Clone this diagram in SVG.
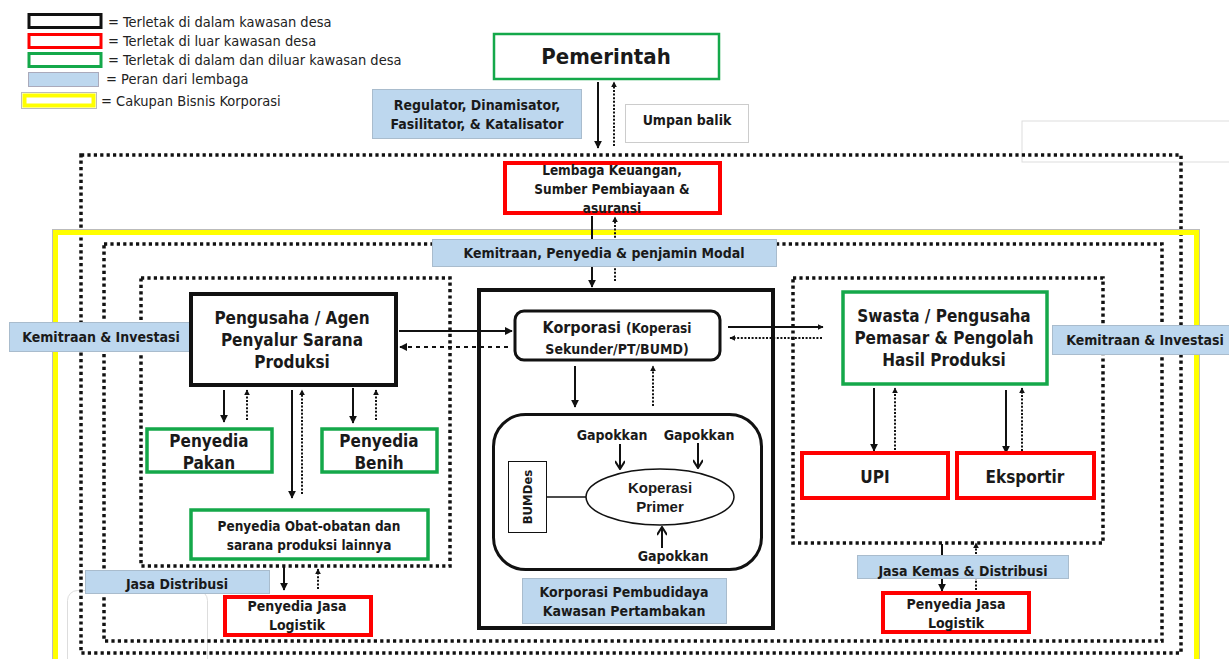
<svg xmlns="http://www.w3.org/2000/svg" width="1229" height="659" viewBox="0 0 1229 659">
<style>
text{font-family:"Liberation Sans Narrow","DejaVu Sans Condensed","Liberation Sans",sans-serif;font-weight:bold;fill:#1a1a1a;text-anchor:middle}
.lg{font-weight:normal;text-anchor:start;font-size:14.5px;fill:#222}
.t16{font-size:17px}
.t14{font-size:14px}
.t13{font-size:13.5px}
.sans{font-family:"Liberation Sans","Open Sans",sans-serif;font-size:15px}
.blk{fill:#fff;stroke:#111;stroke-width:4}
.red{fill:#fff;stroke:#f00;stroke-width:4}
.grn{fill:#fff;stroke:#14a84a;stroke-width:3.5}
.blue{fill:#bdd7ee;stroke:#a9bccd;stroke-width:1}
.dot{fill:none;stroke:#111;stroke-width:3.5;stroke-dasharray:3.2 3.2}
.faint{fill:none;stroke:#ddd;stroke-width:1}
.s{stroke:#111;stroke-width:2;fill:none}
.d{stroke:#111;stroke-width:2;fill:none;stroke-dasharray:2 1.6}
</style>
<defs>
<marker id="ah" viewBox="0 0 10 10" refX="9" refY="5" markerWidth="6" markerHeight="6" markerUnits="userSpaceOnUse" orient="auto"><path d="M0,0 L10,5 L0,10 z" fill="#111"/></marker>
<marker id="ah2" viewBox="0 0 10 10" refX="9" refY="5" markerWidth="8" markerHeight="8" markerUnits="userSpaceOnUse" orient="auto"><path d="M0,0 L10,5 L0,10 z" fill="#111"/></marker>
<marker id="va" viewBox="0 0 10 10" refX="9" refY="5" markerWidth="10" markerHeight="10" markerUnits="userSpaceOnUse" orient="auto"><path d="M1,0 L9,5 L1,10" fill="none" stroke="#111" stroke-width="2"/></marker>
</defs>
<rect width="1229" height="659" fill="#fff"/>

<!-- faint background boxes -->
<rect x="1022" y="121" width="220" height="41" class="faint"/>
<rect x="67.5" y="590.5" width="140" height="90" rx="10" class="faint"/>

<!-- Legend -->
<g id="legend">
<rect x="29" y="14.5" width="72" height="13" fill="#fff" stroke="#111" stroke-width="3"/>
<rect x="29" y="34.5" width="72" height="13" fill="#fff" stroke="#f00" stroke-width="3"/>
<rect x="29" y="53.5" width="72" height="13" fill="#fff" stroke="#14a84a" stroke-width="3"/>
<rect x="28.5" y="72.5" width="70" height="14" fill="#bdd7ee" stroke="#aab" stroke-width="1"/>
<rect x="21.5" y="92.5" width="75" height="16" fill="none" stroke="#bbb" stroke-width="1"/>
<rect x="24.5" y="95.5" width="69" height="10" fill="#fff" stroke="#ff0" stroke-width="4"/>
<text class="lg" x="108" y="27">= Terletak  di dalam kawasan desa</text>
<text class="lg" x="108" y="46">= Terletak  di luar  kawasan desa</text>
<text class="lg" x="108" y="65">= Terletak  di dalam dan diluar kawasan desa</text>
<text class="lg" x="106" y="84">=  Peran dari lembaga</text>
<text class="lg" x="101" y="106">=  Cakupan Bisnis Korporasi</text>
</g>

<!-- Container frames -->
<rect x="81" y="155" width="1100" height="498" class="dot"/>
<rect x="52.5" y="229.5" width="1147" height="450" fill="none" stroke="#bbb" stroke-width="1"/>
<rect x="55.5" y="232.5" width="1141" height="450" fill="none" stroke="#ff0" stroke-width="5"/>
<rect x="104" y="244" width="1058" height="397" class="dot"/>
<rect x="141" y="278" width="309" height="288" class="dot"/>
<rect x="793" y="278" width="310" height="265" class="dot"/>
<rect x="479" y="290" width="294" height="338" fill="none" stroke="#111" stroke-width="4"/>

<!-- Connectors -->
<g id="connectors">
<line x1="598" y1="82" x2="598" y2="148" class="s" marker-end="url(#ah2)"/>
<line x1="614" y1="146" x2="614" y2="82" class="d" marker-end="url(#ah)"/>
<line x1="592" y1="216" x2="592" y2="287" class="s" marker-end="url(#ah2)"/>
<line x1="615" y1="281" x2="615" y2="217" class="d" marker-end="url(#ah)"/>
<line x1="399" y1="331" x2="512" y2="331" class="s" marker-end="url(#ah2)"/>
<line x1="508" y1="347" x2="400" y2="347" class="d" style="stroke-dasharray:4 4" marker-end="url(#ah2)"/>
<line x1="728" y1="327" x2="823" y2="327" class="s" marker-end="url(#ah)"/>
<line x1="822" y1="338" x2="730" y2="338" class="d" marker-end="url(#ah)"/>
<line x1="224" y1="390" x2="224" y2="422" class="s" marker-end="url(#ah2)"/>
<line x1="247" y1="420" x2="247" y2="390" class="d" marker-end="url(#ah)"/>
<line x1="353" y1="388" x2="353" y2="423" class="s" marker-end="url(#ah2)"/>
<line x1="376" y1="420" x2="376" y2="390" class="d" marker-end="url(#ah)"/>
<line x1="292" y1="390" x2="292" y2="498" class="s" marker-end="url(#ah2)"/>
<line x1="302" y1="494" x2="302" y2="390" class="d" marker-end="url(#ah)"/>
<line x1="284" y1="567" x2="284" y2="590" class="s" marker-end="url(#ah2)"/>
<line x1="318" y1="589" x2="318" y2="569" class="d" marker-end="url(#ah)"/>
<line x1="575" y1="366" x2="575" y2="407" class="s" marker-end="url(#ah2)"/>
<line x1="653" y1="406" x2="653" y2="366" class="d" marker-end="url(#ah)"/>
<line x1="547" y1="497" x2="586" y2="497" stroke="#111" stroke-width="1.5"/>
<line x1="874" y1="388" x2="874" y2="451" class="s" marker-end="url(#ah2)"/>
<line x1="895" y1="450" x2="895" y2="388" class="d" marker-end="url(#ah)"/>
<line x1="1006" y1="390" x2="1006" y2="453" class="s" marker-end="url(#ah2)"/>
<line x1="1022" y1="451" x2="1022" y2="388" class="d" marker-end="url(#ah)"/>
<line x1="942" y1="544" x2="942" y2="591" class="s" marker-end="url(#ah2)"/>
<line x1="976" y1="590" x2="976" y2="543" class="d" marker-end="url(#ah)"/>
</g>

<!-- Nodes -->
<g id="pemerintah"><rect x="494" y="34" width="225" height="45" class="grn" style="stroke-width:2.5"/><text x="606" y="64" style="font-size:22px">Pemerintah</text></g>
<g id="regulator"><rect x="372.5" y="89.5" width="209" height="49" class="blue"/><text class="t14" x="477" y="110">Regulator,  Dinamisator,</text><text class="t14" x="477" y="129">Fasilitator,  &amp; Katalisator</text></g>
<g id="umpan"><rect x="625.5" y="104.5" width="123" height="38" fill="#fff" stroke="#ccc" stroke-width="1"/><text class="t14" x="687" y="125">Umpan  balik</text></g>
<g id="lembaga"><rect x="505" y="163" width="215" height="50" class="red"/><text class="t13" x="612" y="175">Lembaga  Keuangan,</text><text class="t13" x="612" y="194">Sumber  Pembiayaan  &amp;</text><text class="t13" x="612" y="213">asuransi</text></g>
<g id="kemitraan-modal"><rect x="432.5" y="239.5" width="344" height="27" class="blue"/><text class="t14" x="604" y="258">Kemitraan,  Penyedia  &amp; penjamin   Modal</text></g>
<g id="kemitraan-kiri"><rect x="9.5" y="322.5" width="183" height="29" class="blue"/><text class="t14" x="101" y="342">Kemitraan  &amp; Investasi</text></g>
<g id="pengusaha"><rect x="191" y="294" width="205" height="91" class="blk"/><text class="t16" x="292" y="324">Pengusaha  / Agen</text><text class="t16" x="292" y="346">Penyalur  Sarana</text><text class="t16" x="292" y="368">Produksi</text></g>
<g id="pakan"><rect x="147" y="429" width="125" height="43" class="grn"/><text class="t16" x="209" y="447">Penyedia</text><text class="t16" x="209" y="469">Pakan</text></g>
<g id="benih"><rect x="322" y="429" width="115" height="43" class="grn"/><text class="t16" x="379" y="447">Penyedia</text><text class="t16" x="379" y="469">Benih</text></g>
<g id="obat"><rect x="191" y="510" width="237" height="49" class="grn"/><text class="t13" x="309" y="531">Penyedia  Obat-obatan  dan</text><text class="t13" x="309" y="550">sarana  produksi  lainnya</text></g>
<g id="jasa-distribusi"><rect x="85.5" y="570.5" width="184" height="23" class="blue"/><text class="t14" x="177" y="589">Jasa  Distribusi</text></g>
<g id="logistik-kiri"><rect x="225" y="597" width="146" height="38" class="red"/><text class="t14" x="297" y="611">Penyedia  Jasa</text><text class="t14" x="297" y="630">Logistik</text></g>
<g id="korporasi"><rect x="515" y="311" width="205" height="49" rx="9" fill="#fff" stroke="#111" stroke-width="3"/><text x="617" y="333"><tspan style="font-size:16px">Korporasi </tspan><tspan style="font-size:13.5px"> (Koperasi</tspan></text><text class="t14" x="617" y="354">Sekunder/PT/BUMD)</text></g>
<g id="primer-box"><rect x="493.5" y="414.5" width="268" height="155" rx="32" fill="none" stroke="#111" stroke-width="3"/></g>
<g id="koperasi-primer"><ellipse cx="660" cy="497" rx="74" ry="28" fill="#fff" stroke="#111" stroke-width="1.5"/><text class="sans" x="660" y="493">Koperasi</text><text class="sans" x="660" y="512">Primer</text></g>
<g id="gapokkan1"><text class="t14" x="612" y="440">Gapokkan</text><line x1="620" y1="444" x2="620" y2="469" class="s" marker-end="url(#va)"/></g>
<g id="gapokkan2"><text class="t14" x="699" y="440">Gapokkan</text><line x1="698" y1="443" x2="698" y2="468" class="s" marker-end="url(#va)"/></g>
<g id="gapokkan3"><text class="t14" x="673" y="561">Gapokkan</text><line x1="662" y1="548" x2="662" y2="527" class="s" marker-end="url(#va)"/></g>
<g id="bumdes"><rect x="508.5" y="461.5" width="38" height="71" fill="#fff" stroke="#111" stroke-width="1"/><text x="0" y="0" style="font-size:13px" transform="translate(532,497) rotate(-90)">BUMDes</text></g>
<g id="pembudidaya"><rect x="522.5" y="578.5" width="204" height="45" class="blue"/><text class="t14" x="624" y="597">Korporasi   Pembudidaya</text><text class="t14" x="624" y="616">Kawasan  Pertambakan</text></g>
<g id="swasta"><rect x="843" y="292" width="204" height="92" class="grn"/><text class="t16" x="944" y="322">Swasta  / Pengusaha</text><text class="t16" x="944" y="344">Pemasar  &amp; Pengolah</text><text class="t16" x="944" y="366">Hasil  Produksi</text></g>
<g id="kemitraan-kanan"><rect x="1052.5" y="325.5" width="180" height="29" class="blue"/><text class="t14" x="1145" y="345">Kemitraan  &amp; Investasi</text></g>
<g id="upi"><rect x="802" y="453" width="146" height="45" class="red"/><text class="t16" x="875" y="483">UPI</text></g>
<g id="eksportir"><rect x="957" y="453" width="137" height="45" class="red"/><text class="t16" x="1025" y="483">Eksportir</text></g>
<g id="jasa-kemas"><rect x="857.5" y="555.5" width="211" height="23" class="blue"/><text class="t14" x="963" y="576">Jasa  Kemas  &amp; Distribusi</text></g>
<g id="logistik-kanan"><rect x="883" y="593" width="146" height="39" class="red"/><text class="t14" x="956" y="609">Penyedia  Jasa</text><text class="t14" x="956" y="628">Logistik</text></g>
</svg>
